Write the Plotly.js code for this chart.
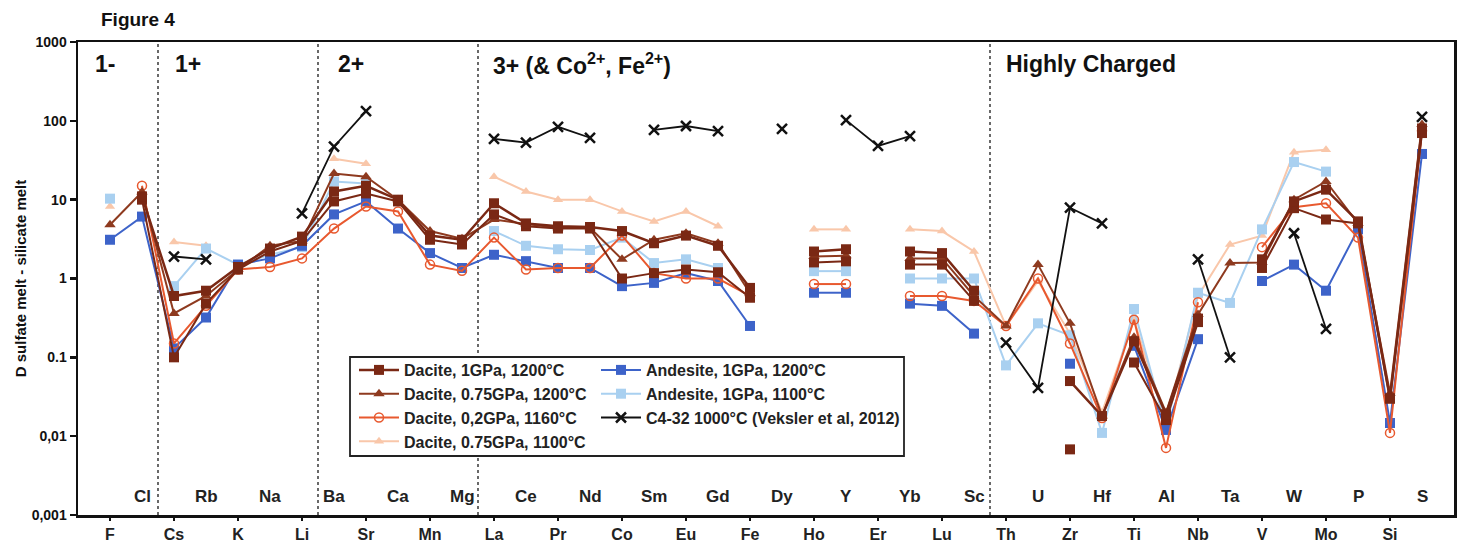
<!DOCTYPE html>
<html>
<head>
<meta charset="utf-8">
<script src="https://cdn.plot.ly/plotly-3.0.1.min.js"></script>
<style>html,body{margin:0;padding:0;background:#fff;}#chart{width:1465px;height:544px;}</style>
</head>
<body>
<div id="chart"></div>
<script>
// ---------- DATA ----------
const elements = ["F","Cl","Cs","Rb","K","Na","Li","Ba","Sr","Ca","Mn","Mg","La","Ce","Pr","Nd","Co","Sm","Eu","Gd","Fe","Dy","Ho","Y","Er","Yb","Lu","Sc","Th","U","Zr","Hf","Ti","Al","Nb","Ta","V","W","Mo","P","Si","S"];
// labels drawn below the axis / inside the plot (upper row)
const lowerLabels = ["F","Cs","K","Li","Sr","Mn","La","Pr","Co","Eu","Fe","Ho","Er","Lu","Th","Zr","Ti","Nb","V","Mo","Si"];
const upperLabels = ["Cl","Rb","Na","Ba","Ca","Mg","Ce","Nd","Sm","Gd","Dy","Y","Yb","Sc","U","Hf","Al","Ta","W","P","S"];

const dacite1GPa_1200 = [null,11,0.6,0.7,1.4,2.4,3.4,12.7,15,10,3.5,3.1,9,5,4.6,4.5,4.0,2.8,3.5,2.6,0.76,null,2.2,2.35,null,2.2,2.1,0.7,null,null,0.05,0.018,0.16,0.019,0.31,null,1.75,9.5,13.4,5.3,0.03,80];
const dacite1GPa_1200_rep = [null,10,0.1,0.48,1.3,2.2,3.0,9.5,12,9.5,3.1,2.7,6.5,4.6,4.3,4.3,1.0,1.17,1.3,1.2,0.57,null,1.6,1.65,null,1.5,1.5,0.52,null,null,0.0068,null,0.086,0.016,0.28,null,1.36,7.8,5.6,5,0.03,70];
const dacite075GPa_1200 = [4.8,12.5,0.36,0.6,1.3,2.6,3.0,21.4,19.6,10,4,3.2,5.6,4.9,4.4,4.4,1.75,3.1,3.75,2.8,0.65,null,1.9,1.95,null,1.8,1.8,0.6,0.25,1.5,0.27,0.018,0.18,0.02,0.35,1.57,1.6,10,17,5,0.035,90];
const dacite02GPa_1160 = [null,15,0.15,0.45,1.3,1.4,1.8,4.3,8.2,7.1,1.5,1.25,3.3,1.3,1.36,1.36,3.5,1.17,1.0,1.0,0.6,null,0.85,0.85,null,0.6,0.6,0.52,0.25,1.0,0.15,0.017,0.3,0.0071,0.5,null,2.5,8,9,3.3,0.011,75];
const dacite075GPa_1100 = [8.2,null,2.9,2.6,null,null,null,33,28.5,null,null,null,19.6,12.7,10,10,7.1,5.3,7.1,4.6,null,null,4.2,4.2,null,4.2,4.0,2.2,0.25,0.93,0.2,0.02,0.3,0.015,0.6,2.7,3.5,40,43,null,null,null];
const andesite1GPa_1200 = [3.1,6.1,0.13,0.32,1.5,1.8,2.6,6.5,9.5,4.3,2.1,1.36,2.0,1.66,1.36,1.36,0.8,0.88,1.17,0.93,0.25,null,0.66,0.66,null,0.48,0.45,0.2,null,null,0.083,null,0.14,0.012,0.17,null,0.93,1.5,0.7,4.2,0.0147,38];
const andesite1GPa_1100 = [10.3,null,0.8,2.4,1.5,2.0,2.5,17,16,null,null,null,4.0,2.6,2.35,2.3,3.3,1.57,1.75,1.36,null,null,1.24,1.24,null,1.0,1.0,1.0,0.079,0.27,0.19,0.011,0.41,0.013,0.66,0.49,4.2,30,22.7,null,null,null];
const c4_32 = [null,null,1.9,1.75,null,null,6.7,47,133,null,null,null,59,53,84,61,null,77,86,74,null,79,null,102,48,64,null,null,0.154,0.041,7.9,5.0,null,null,1.75,0.1,null,3.75,0.23,null,null,112];

const yTickVals = [0.001,0.01,0.1,1,10,100,1000];
const yTickText = ["0,001","0,01","0.1","1","10","100","1000"];

// ---------- STYLE ----------
const FONT = "Liberation Sans, Arial, sans-serif";
const X0 = 78, X1 = 1454, Y0 = 42, Y1 = 515;
const px = v => (v - X0) / (X1 - X0);
const py = v => (Y1 - v) / (Y1 - Y0);

function tr(name, y, opts) {
  return Object.assign({
    type: "scatter", mode: "lines+markers", name: name, x: elements, y: y,
    connectgaps: false, cliponaxis: true
  }, opts);
}

const traces = [
  tr("Dacite, 0.75GPa, 1100°C", dacite075GPa_1100, {legend:"legend", legendrank:4,
     line:{color:"#F9C7AA", width:2}, marker:{symbol:"triangle-up", size:9, color:"#F9C7AA"}}),
  tr("Andesite, 1GPa, 1100°C", andesite1GPa_1100, {legend:"legend2", legendrank:2,
     line:{color:"#A9D0F0", width:2}, marker:{symbol:"square", size:10, color:"#A9D0F0"}}),
  tr("Andesite, 1GPa, 1200°C", andesite1GPa_1200, {legend:"legend2", legendrank:1,
     line:{color:"#3D63C9", width:2}, marker:{symbol:"square", size:10, color:"#3D63C9"}}),
  tr("Dacite, 0,2GPa, 1160°C", dacite02GPa_1160, {legend:"legend", legendrank:3,
     line:{color:"#E8592F", width:2}, marker:{symbol:"circle-open", size:9, color:"#E8592F", line:{width:1.5}}}),
  tr("Dacite, 0.75GPa, 1200°C", dacite075GPa_1200, {legend:"legend", legendrank:2,
     line:{color:"#8E3A1F", width:2}, marker:{symbol:"triangle-up", size:10, color:"#8E3A1F"}}),
  tr("Dacite, 1GPa, 1200°C (rep)", dacite1GPa_1200_rep, {showlegend:false,
     line:{color:"#7A2814", width:2}, marker:{symbol:"square", size:10, color:"#7A2814"}}),
  tr("Dacite, 1GPa, 1200°C", dacite1GPa_1200, {legend:"legend", legendrank:1,
     line:{color:"#7A2814", width:2.5}, marker:{symbol:"square", size:10, color:"#7A2814"}}),
  tr("C4-32 1000°C (Veksler et al, 2012)", c4_32, {legend:"legend2", legendrank:3,
     line:{color:"#111", width:1.8}, marker:{symbol:"x-thin", size:10, color:"#111", line:{width:2.5, color:"#111"}}})
];

const annFont = {family: FONT, size: 17, color: "#222", weight: "bold"};
const annotations = [];
upperLabels.forEach(l => annotations.push({x: l, xref: "x", y: py(496), yref: "paper", text: l,
  showarrow: false, font: annFont, xanchor: "center", yanchor: "middle"}));
const grp = [["1-", 93], ["1+", 173], ["2+", 336], ["3+ (& Co<sup>2+</sup>, Fe<sup>2+</sup>)", 491], ["Highly Charged", 1004]];
grp.forEach(g => annotations.push({x: px(g[1]), xref: "paper", y: py(64), yref: "paper", text: g[0],
  showarrow: false, xanchor: "left", yanchor: "middle", font: {family: FONT, size: 23, color: "#111", weight: "bold"}}));
annotations.push({x: px(99), xref: "paper", y: py(20), yref: "paper", text: "Figure 4", showarrow: false,
  xanchor: "left", yanchor: "middle", font: {family: FONT, size: 19, color: "#111", weight: "bold"}});

const shapes = [1.5, 6.5, 11.5, 27.5].map(v => ({type: "line", xref: "x", yref: "paper", x0: v, x1: v, y0: 0, y1: 1,
  line: {color: "#444", width: 1.6, dash: "dot"}, layer: "below"}));
shapes.push({type: "rect", xref: "paper", yref: "paper", x0: px(350), x1: px(904), y0: py(456), y1: py(357),
  line: {color: "#222", width: 1.8}, fillcolor: "#fff", layer: "above"});

const legFont = {family: FONT, size: 16, color: "#222", weight: "bold"};
const layout = {
  width: 1465, height: 544,
  margin: {l: X0, r: 1465 - X1, t: Y0, b: 544 - Y1, pad: 0},
  paper_bgcolor: "#fff", plot_bgcolor: "#fff",
  font: {family: FONT, color: "#111"},
  xaxis: {
    type: "category", categoryorder: "array", categoryarray: elements,
    range: [-1, 42], tickmode: "array", tickvals: lowerLabels, ticktext: lowerLabels,
    tickfont: {family: FONT, size: 16, color: "#222", weight: "bold"},
    ticks: "outside", ticklen: 3, tickwidth: 2, tickcolor: "#111",
    showline: true, linecolor: "#111", linewidth: 2.5, mirror: true,
    showgrid: false, zeroline: false, fixedrange: true
  },
  xaxis2: {
    type: "category", categoryorder: "array", categoryarray: elements,
    overlaying: "x", side: "bottom", anchor: "y",
    range: [-1, 42], tickmode: "array", tickvals: upperLabels, showticklabels: false,
    ticks: "outside", ticklen: 3, tickwidth: 2, tickcolor: "#111",
    showline: false, showgrid: false, zeroline: false, fixedrange: true
  },
  yaxis: {
    type: "log", range: [-3, 3], tickmode: "array", tickvals: yTickVals, ticktext: yTickText,
    tickfont: {family: FONT, size: 14, color: "#111", weight: "bold"},
    ticks: "outside", ticklen: 6, tickwidth: 2.5, tickcolor: "#111",
    showline: true, linecolor: "#111", linewidth: 2.5, mirror: true,
    showgrid: false, zeroline: false,
    title: {text: "D sulfate melt - silicate melt", font: {family: FONT, size: 15, color: "#111", weight: "bold"}, standoff: 2}
  },
  legend: {x: px(354), y: py(353), xanchor: "left", yanchor: "top", bgcolor: "rgba(0,0,0,0)",
    borderwidth: 0, font: legFont, traceorder: "normal", itemwidth: 40},
  legend2: {x: px(596), y: py(353), xanchor: "left", yanchor: "top", bgcolor: "rgba(0,0,0,0)",
    borderwidth: 0, font: legFont, traceorder: "normal", itemwidth: 40},
  annotations: annotations,
  shapes: shapes,
  showlegend: true
};

Plotly.newPlot("chart", traces, layout, {displayModeBar: false, staticPlot: true});
</script>
</body>
</html>
